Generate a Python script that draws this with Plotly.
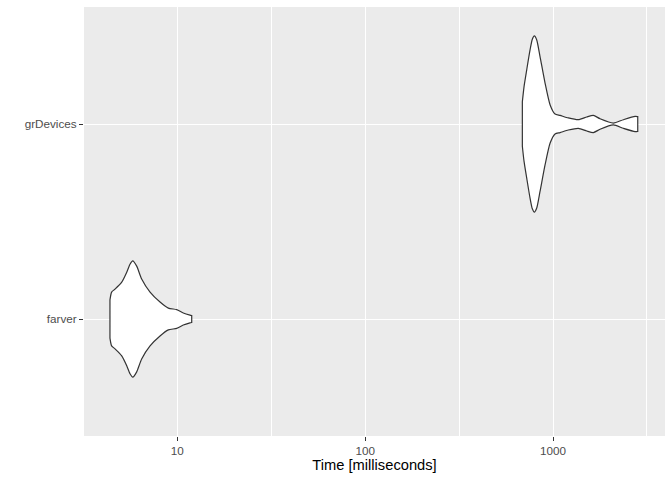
import plotly.graph_objects as go

# groups on the y axis (bottom to top)
categories = ["farver", "grDevices"]

# violin outline: time in ms and half width (category units)
farver_ms = [4.38, 4.47, 4.66, 5.06, 5.38, 5.60, 5.79, 6.08, 6.46, 7.16,
             8.09, 8.96, 9.93, 10.76, 11.68, 11.93]
farver_halfwidth = [0.098, 0.138, 0.153, 0.189, 0.240, 0.281, 0.298, 0.271,
                    0.205, 0.138, 0.087, 0.056, 0.048, 0.031, 0.020, 0.018]

grdevices_ms = [686.5, 701, 724.4, 754.5, 775.9, 795.3, 819, 852.7, 906.8, 964,
                1025, 1090, 1206, 1364, 1512, 1639, 1779, 2094, 2367, 2733, 2824]
grdevices_halfwidth = [0.114, 0.192, 0.278, 0.380, 0.435, 0.452, 0.431, 0.346,
                       0.210, 0.099, 0.051, 0.044, 0.031, 0.022, 0.036, 0.044,
                       0.027, 0.005, 0.022, 0.039, 0.038]

x_ticks = [10, 100, 1000]
x_minor = [10 ** 0.5, 10 ** 1.5, 10 ** 2.5, 10 ** 3.5]

fig = go.Figure()

for pos, (ms, hw) in enumerate([(farver_ms, farver_halfwidth),
                                (grdevices_ms, grdevices_halfwidth)], start=1):
    # top edge left->right, bottom edge right->left, back to start;
    # end points doubled so the trimmed ends stay flat under the spline
    xs = [ms[0]] + ms + [ms[-1]] + [ms[-1]] + ms[::-1] + [ms[0], ms[0]]
    ys = ([pos + hw[0]] + [pos + h for h in hw] + [pos + hw[-1]]
          + [pos - hw[-1]] + [pos - h for h in hw[::-1]]
          + [pos - hw[0], pos + hw[0]])
    fig.add_trace(go.Scatter(
        x=xs, y=ys, mode="lines", fill="toself", fillcolor="white",
        line=dict(color="#333333", width=1.2, shape="spline", smoothing=0.6),
        showlegend=False, hoverinfo="skip",
    ))

fig.update_layout(
    width=672, height=480,
    margin=dict(l=84, r=7, t=7, b=44),
    paper_bgcolor="white", plot_bgcolor="#EBEBEB",
    font=dict(family="Liberation Sans, Arial, sans-serif"),
    xaxis=dict(
        type="log", range=[0.5033, 3.596], automargin=False,
        tickvals=x_ticks, ticktext=[str(v) for v in x_ticks],
        ticks="outside", ticklen=4, tickcolor="#333333", tickwidth=1,
        tickfont=dict(size=11.7, color="#4D4D4D"),
        showgrid=True, gridcolor="white", gridwidth=1.4,
        minor=dict(tickvals=x_minor, showgrid=True, gridcolor="white",
                   gridwidth=0.7, ticks=""),
        zeroline=False, showline=False,
        title=dict(text="Time [milliseconds]", standoff=2,
                   font=dict(size=14.7, color="black")),
    ),
    yaxis=dict(
        range=[0.4, 2.6], automargin=False,
        tickvals=[1, 2], ticktext=categories,
        ticks="outside", ticklen=4, tickcolor="#333333", tickwidth=1,
        tickfont=dict(size=11.7, color="#4D4D4D"),
        showgrid=True, gridcolor="white", gridwidth=1.4,
        zeroline=False, showline=False,
    ),
)

# drop the browser's default 8px body margin so the figure sits at 0,0
fig.write_html("out.html", config={"displayModeBar": False},
               post_script="document.body.style.margin='0';")
